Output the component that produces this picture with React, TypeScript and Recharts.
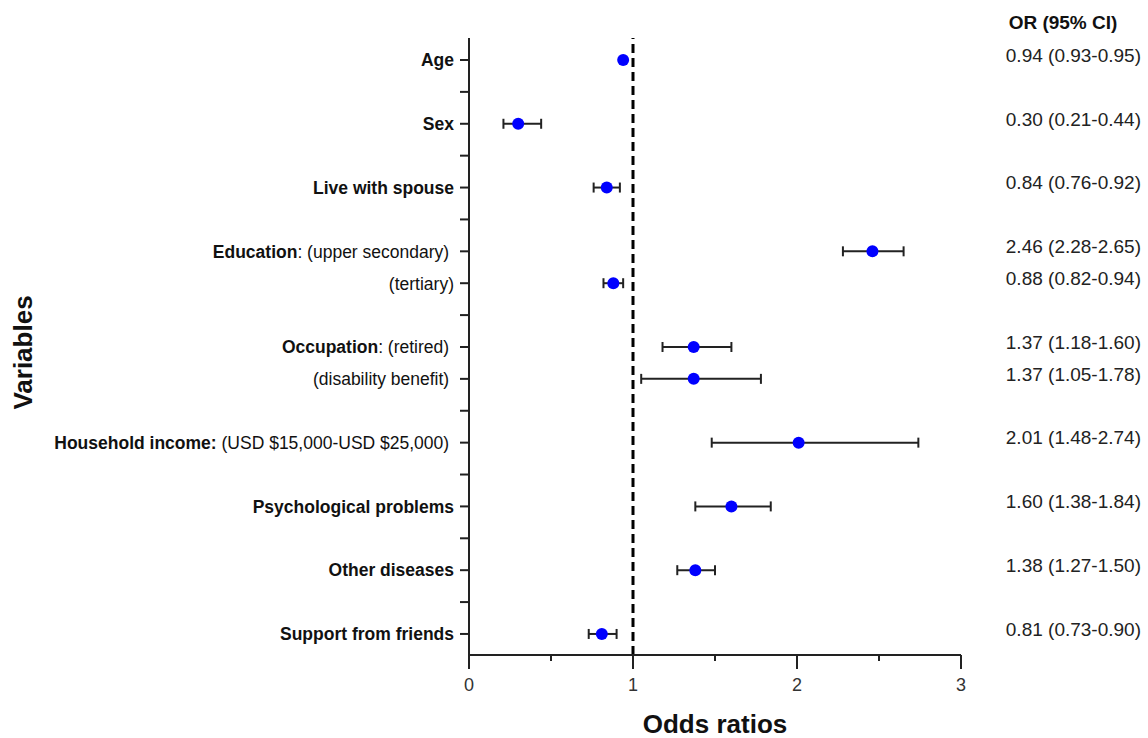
import { FC } from 'react'
import {
  ErrorBar,
  Label,
  ReferenceLine,
  Scatter,
  ScatterChart,
  XAxis,
  YAxis,
} from 'recharts'

const FONT = '"Liberation Sans", Arial, sans-serif'

// one entry per row of the y axis (empty rows are the spacer ticks)
const rowBold = [
  'Age', '', 'Sex', '', 'Live with spouse', '', 'Education', '', '',
  'Occupation', '', '', 'Household income:', '', 'Psychological problems', '',
  'Other diseases', '', 'Support from friends',
]
const rowPlain = [
  '', '', '', '', '', '', ': (upper secondary)\u00a0', '(tertiary)', '',
  ': (retired)\u00a0', '(disability benefit)\u00a0', '', ' (USD $15,000-USD $25,000)\u00a0', '', '', '',
  '', '', '',
]
const rowTicks = rowBold.map((_, i) => i)

const orRows = [0, 2, 4, 6, 7, 9, 10, 12, 14, 16, 18]
const orValues = [0.94, 0.3, 0.84, 2.46, 0.88, 1.37, 1.37, 2.01, 1.6, 1.38, 0.81]
const ciLow = [0.93, 0.21, 0.76, 2.28, 0.82, 1.18, 1.05, 1.48, 1.38, 1.27, 0.73]
const ciHigh = [0.95, 0.44, 0.92, 2.65, 0.94, 1.6, 1.78, 2.74, 1.84, 1.5, 0.9]

const xTicks = [0, 0.5, 1, 1.5, 2, 2.5, 3]
const rowDomain = [-0.69, 18.66]

const data = orRows.map((row, i) => ({
  row,
  or: orValues[i],
  err: [orValues[i] - ciLow[i], ciHigh[i] - orValues[i]],
}))

const ciText = (row: number) => {
  const i = orRows.indexOf(row)
  if (i < 0) return ''
  return `${orValues[i].toFixed(2)} (${ciLow[i].toFixed(2)}-${ciHigh[i].toFixed(2)})`
}

type TickProps = { x: number; y: number; payload: { value: number } }

const RowTick: FC<TickProps> = ({ x, y, payload }) => {
  const b = rowBold[payload.value] || ''
  const p = rowPlain[payload.value] || ''
  return (
    <g>
      <line x1={x - 9} x2={x} y1={y} y2={y} stroke="#222" strokeWidth={2} />
      <text x={x - 15} y={y} dy="0.36em" textAnchor="end" fontSize={17.5} fill="#111" fontFamily={FONT}>
        {b && <tspan fontWeight="bold">{b}</tspan>}
        {p && <tspan>{p}</tspan>}
      </text>
    </g>
  )
}

const CiTick: FC<TickProps> = ({ x, y, payload }) => (
  <text x={x + 180} y={y - 5} dy="0.36em" textAnchor="end" fontSize={19} fill="#222" fontFamily={FONT}>
    {ciText(payload.value)}
  </text>
)

const OddsTick: FC<TickProps> = ({ x, y, payload }) => {
  const major = Number.isInteger(payload.value)
  return (
    <g>
      <line x1={x} x2={x} y1={y} y2={y + (major ? 14 : 6)} stroke="#222" strokeWidth={2} />
      {major && (
        <text x={x} y={y + 36} textAnchor="middle" fontSize={18} fill="#333" fontFamily={FONT}>
          {payload.value}
        </text>
      )}
    </g>
  )
}

const Dot = (props: any) => <circle cx={props.cx} cy={props.cy} r={6} fill="#0000ff" />
const NoDot = () => <g />

export default function App() {
  return (
    <div style={{ position: 'absolute', left: 0, top: 0 }}>
      <ScatterChart width={1148} height={738} margin={{ top: 38, right: 0, bottom: 0, left: 0 }}>
        <XAxis
          type="number"
          dataKey="or"
          domain={[0, 3]}
          ticks={xTicks}
          interval={0}
          height={83}
          tickSize={0}
          tickMargin={0}
          tickLine={false}
          axisLine={{ stroke: '#222', strokeWidth: 2 }}
          tick={(props: any) => <OddsTick {...props} />}
          allowDataOverflow
        >
          <Label
            content={({ viewBox }: any) => (
              <text
                x={viewBox.x + viewBox.width / 2}
                y={viewBox.y + 78}
                textAnchor="middle"
                fontSize={26}
                fontWeight="bold"
                fill="#111"
                fontFamily={FONT}
              >
                Odds ratios
              </text>
            )}
          />
        </XAxis>
        <YAxis
          type="number"
          dataKey="row"
          domain={rowDomain}
          reversed
          ticks={rowTicks}
          interval={0}
          width={469}
          tickSize={0}
          tickMargin={0}
          tickLine={false}
          axisLine={{ stroke: '#222', strokeWidth: 2 }}
          tick={(props: any) => <RowTick {...props} />}
          allowDataOverflow
        >
          <Label
            content={({ viewBox }: any) => (
              <text
                x={32}
                y={viewBox.y + viewBox.height / 2 + 6}
                transform={`rotate(-90 32 ${viewBox.y + viewBox.height / 2 + 6})`}
                textAnchor="middle"
                fontSize={26}
                fontWeight="bold"
                fill="#111"
                fontFamily={FONT}
              >
                Variables
              </text>
            )}
          />
        </YAxis>
        <YAxis
          yAxisId="ci"
          orientation="right"
          type="number"
          dataKey="row"
          domain={rowDomain}
          reversed
          ticks={orRows}
          interval={0}
          width={187}
          tickSize={0}
          tickMargin={0}
          tickLine={false}
          axisLine={false}
          tick={(props: any) => <CiTick {...props} />}
          allowDataOverflow
        >
          <Label
            content={({ viewBox }: any) => (
              <text
                x={viewBox.x + 102}
                y={viewBox.y - 9}
                textAnchor="middle"
                fontSize={19}
                fontWeight="bold"
                fill="#111"
                fontFamily={FONT}
              >
                OR (95% CI)
              </text>
            )}
          />
        </YAxis>
        <ReferenceLine x={1} stroke="#000" strokeWidth={3} strokeDasharray="9 5" />
        <Scatter data={data} yAxisId="ci" shape={NoDot} isAnimationActive={false} legendType="none" />
        <Scatter data={data} shape={Dot} isAnimationActive={false}>
          <ErrorBar dataKey="err" direction="x" width={5} stroke="#222" strokeWidth={2} />
        </Scatter>
      </ScatterChart>
    </div>
  )
}
